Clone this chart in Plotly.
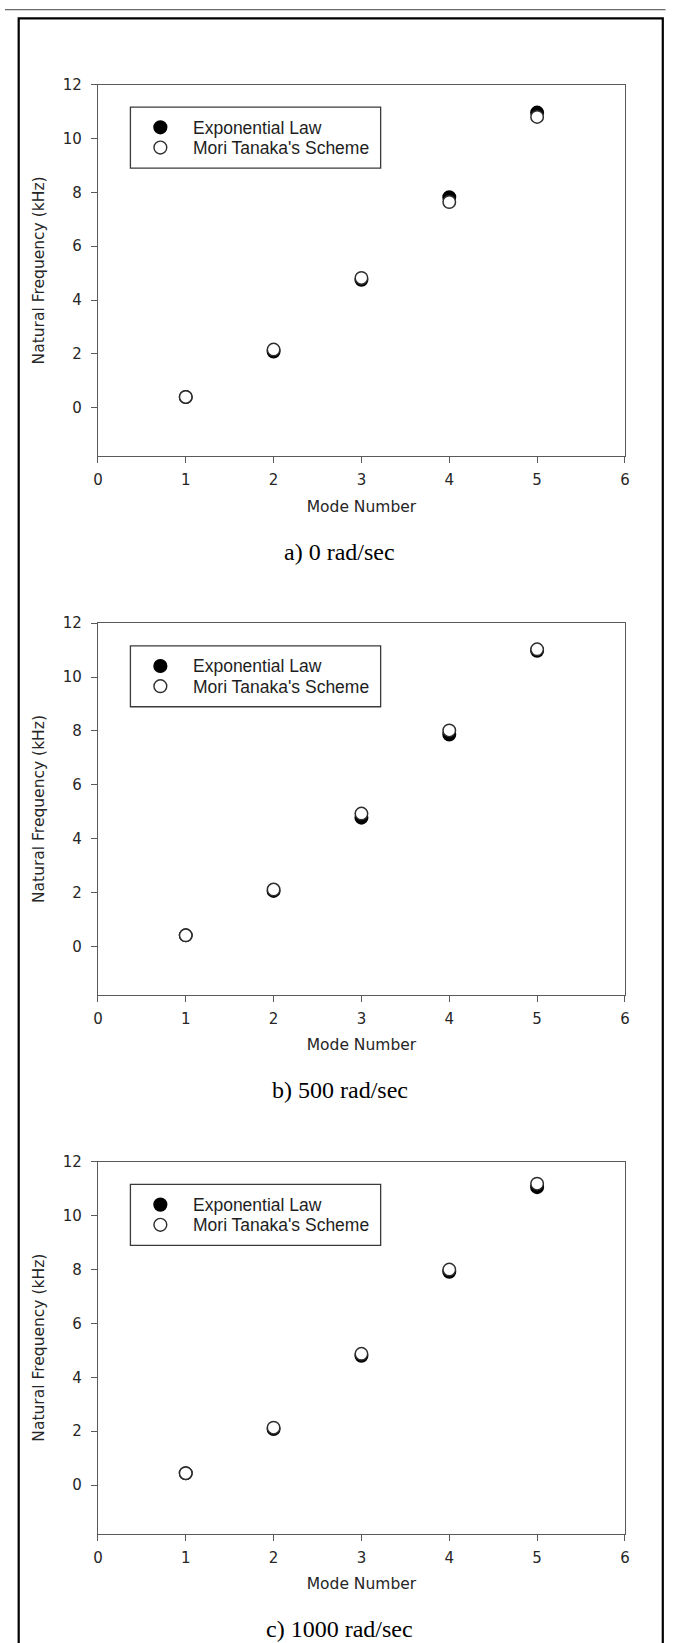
import plotly.graph_objects as go

# Natural frequencies (kHz) for the first five modes at three spin speeds
modes = [1, 2, 3, 4, 5]
captions = ["a) 0 rad/sec", "b) 500 rad/sec", "c) 1000 rad/sec"]
series_names = ["Exponential Law", "Mori Tanaka's Scheme"]

exp_0 = [0.40, 2.09, 4.75, 7.82, 10.96]
mori_0 = [0.40, 2.16, 4.82, 7.64, 10.80]
exp_500 = [0.41, 2.06, 4.78, 7.87, 10.98]
mori_500 = [0.41, 2.11, 4.93, 8.02, 11.03]
exp_1000 = [0.44, 2.08, 4.80, 7.92, 11.06]
mori_1000 = [0.44, 2.13, 4.87, 8.00, 11.19]

x_ticks = [0, 1, 2, 3, 4, 5, 6]
y_ticks = [0, 2, 4, 6, 8, 10, 12]

W, H = 674, 1643
panels = [(exp_0, mori_0), (exp_500, mori_500), (exp_1000, mori_1000)]
plot_tops = [76.0, 617.6, 1159.2]   # pixel top of each plot frame
plot_h = 373.7
x_left, x_right = 94.3, 629.3

AXIS_GRAY = "#5a5a5a"
TEXT_GRAY = "#262626"
tick_font = dict(family="DejaVu Sans", size=15, color=TEXT_GRAY)
title_font = dict(family="DejaVu Sans", size=15.5, color=TEXT_GRAY)

fig = go.Figure()
layout = dict(
    width=W, height=H,
    margin=dict(l=0, r=0, t=0, b=0),
    paper_bgcolor="white", plot_bgcolor="white",
    showlegend=False,
    shapes=[], annotations=[],
)

for i, (exp_vals, mori_vals) in enumerate(panels):
    n = "" if i == 0 else str(i + 1)
    top = plot_tops[i]
    bottom = top + plot_h
    xa, ya = "x" + n, "y" + n

    fig.add_trace(go.Scatter(
        x=modes, y=exp_vals, mode="markers", name=series_names[0],
        xaxis=xa, yaxis=ya,
        marker=dict(symbol="circle", size=12.5, color="black",
                    line=dict(color="black", width=1.5)),
    ))
    fig.add_trace(go.Scatter(
        x=modes, y=mori_vals, mode="markers", name=series_names[1],
        xaxis=xa, yaxis=ya,
        marker=dict(symbol="circle", size=12.5, color="white",
                    line=dict(color="#2e2e2e", width=1.5)),
    ))

    layout["xaxis" + n] = dict(
        domain=[x_left / W, x_right / W], anchor=ya,
        range=[0, 6], tickvals=x_ticks, ticks="outside", ticklen=6,
        tickwidth=1, tickcolor=AXIS_GRAY, showline=True, linecolor=AXIS_GRAY,
        linewidth=1.2, mirror=True, showgrid=False, zeroline=False,
        tickfont=tick_font, ticklabelstandoff=4,
        title=dict(text="Mode Number", font=title_font, standoff=12),
    )
    layout["yaxis" + n] = dict(
        domain=[1 - bottom / H, 1 - top / H], anchor=xa,
        range=[-1.8, 12], tickvals=y_ticks, ticks="outside", ticklen=6,
        tickwidth=1, tickcolor=AXIS_GRAY, showline=True, linecolor=AXIS_GRAY,
        linewidth=1.2, mirror=True, showgrid=False, zeroline=False,
        tickfont=tick_font, ticklabelstandoff=6,
        title=dict(text="Natural Frequency (kHz)", font=title_font, standoff=14),
    )

    # Legend box drawn inside each plot frame
    xd, yd = xa + " domain", ya + " domain"
    pw = x_right - x_left
    fx = lambda px: (px - x_left) / pw
    fy = lambda py: 1 - (py - top) / plot_h
    layout["shapes"].append(dict(
        type="rect", xref=xd, yref=yd,
        x0=fx(127.3), x1=fx(381.3), y0=fy(top + 84.0), y1=fy(top + 22.7),
        line=dict(color="#3a3a3a", width=1.3), fillcolor="white",
    ))
    row_y = [top + 43.0, top + 63.3]
    for k, (fill, edge) in enumerate([("black", "black"), ("white", "#2e2e2e")]):
        layout["shapes"].append(dict(
            type="circle", xref=xd, yref=yd,
            xsizemode="pixel", ysizemode="pixel",
            xanchor=fx(157.7), yanchor=fy(row_y[k]),
            x0=-6.4, x1=6.4, y0=-6.4, y1=6.4,
            fillcolor=fill, line=dict(color=edge, width=1.4),
        ))
        layout["annotations"].append(dict(
            xref=xd, yref=yd, x=fx(188.3), y=fy(row_y[k] + 0.5),
            xanchor="left", yanchor="middle", showarrow=False,
            text=series_names[k],
            font=dict(family="Liberation Sans, Arial", size=17.5, color="#1e1e1e"),
        ))

    # Panel caption under the x-axis title
    layout["annotations"].append(dict(
        xref="paper", yref="paper", x=340 / W, y=1 - (top + 469.7) / H,
        xanchor="center", yanchor="middle", showarrow=False,
        text=captions[i],
        font=dict(family="Liberation Serif, Times New Roman", size=24, color="black"),
    ))

# Page frame around the three panels
layout["shapes"].append(dict(
    type="line", xref="paper", yref="paper",
    x0=0, x1=670.5 / W, y0=1 - 0.6 / H, y1=1 - 0.6 / H,
    line=dict(color="#6a6a6a", width=1.2),
))
layout["shapes"].append(dict(
    type="rect", xref="paper", yref="paper",
    x0=13.9 / W, x1=667.7 / W, y0=1 - 1665 / H, y1=1 - 9.5 / H,
    line=dict(color="black", width=2.2),
))

fig.update_layout(**layout)
fig.write_html("out.html")
